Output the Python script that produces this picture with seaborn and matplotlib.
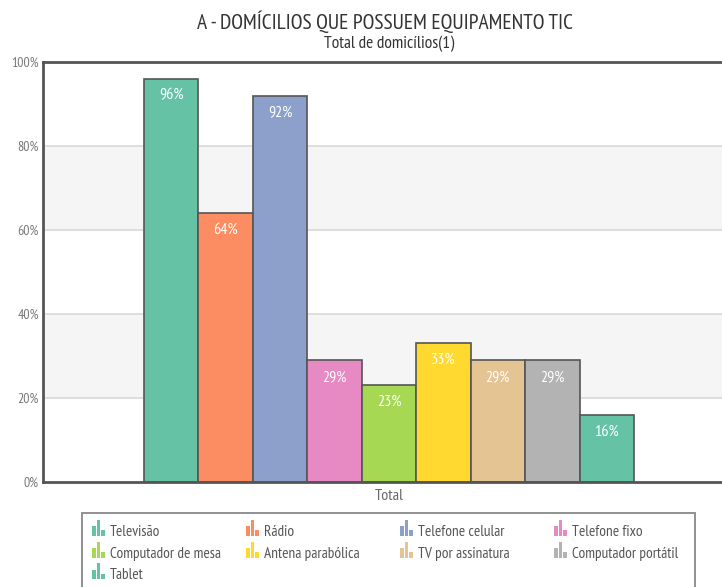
import pandas as pd
import seaborn as sns
import matplotlib.pyplot as plt
import matplotlib.font_manager as fm
from matplotlib.patches import Rectangle
from matplotlib.legend_handler import HandlerBase

categorias = ["Televisão", "Rádio", "Telefone celular", "Telefone fixo",
              "Computador de mesa", "Antena parabólica", "TV por assinatura",
              "Computador portátil", "Tablet"]
valores = [96, 64, 92, 29, 23, 33, 29, 29, 16]
grupo = ["Total"] * len(categorias)
cores = ["#66c2a5", "#fc8d62", "#8da0cb", "#e78ac3", "#a6d854",
         "#ffd92f", "#e5c494", "#b3b3b3", "#66c2a5"]
yticks = [0, 20, 40, 60, 80, 100]

sns.set_style("white")
# fonte estreita se houver, senao Liberation Sans
instaladas = {f.name for f in fm.fontManager.ttflist}
prefs = ["Ubuntu Condensed", "PT Sans Narrow", "Liberation Sans Narrow",
         "Liberation Sans"]
fonte = [f for f in prefs if f in instaladas][:1]
plt.rcParams['font.family'] = fonte + ['DejaVu Sans']


class MiniBarras(HandlerBase):
    # icone de grafico de barras pequeno, como no original
    def create_artists(self, legend, orig, xd, yd, w, h, fontsize, trans):
        cor = orig.get_facecolor()
        arts = []
        bw = w / 3.6
        for i, fr in enumerate([0.6, 1.0, 0.35]):
            r = Rectangle((xd + i * bw * 1.3, yd - 1), bw, (h + 2) * fr,
                          facecolor=cor, edgecolor="none", transform=trans)
            arts.append(r)
        return arts


df = pd.DataFrame({"grupo": grupo, "categoria": categorias, "valor": valores})

fig = plt.figure(figsize=(7.22, 5.87), dpi=100)
ax = fig.add_axes([43 / 722, 105 / 587, 692 / 722, 420 / 587])

# faixas alternadas de fundo
for lo in [20, 60]:
    ax.axhspan(lo, lo + 20, color="#f5f5f5", zorder=0)
for t in yticks[1:]:
    ax.axhline(t, color="#d9d9d9", lw=1.2, zorder=0.5)

sns.barplot(data=df, x="grupo", y="valor", hue="categoria",
            hue_order=categorias, palette=cores, width=0.8, saturation=1,
            ax=ax, edgecolor="#555555", linewidth=1.2, legend=False, zorder=2)

for cont, v in zip(ax.containers, valores):
    barra = cont[0]
    ax.text(barra.get_x() + barra.get_width() / 2, v - 4, f"{v}%",
            ha="center", va="center", color="white", fontsize=11.5, zorder=3)

ax.set_ylim(0, 100)
ax.set_xlim(-0.565, 0.565)
ax.set_yticks(yticks)
ax.set_yticklabels([f"{t}%" for t in yticks], color="#777777", fontsize=10)
ax.tick_params(axis="x", colors="#666666", labelsize=11.5, length=0, pad=5)
ax.tick_params(axis="y", length=0, pad=3)
ax.set_xlabel("")
ax.set_ylabel("")
for s in ["left", "bottom", "top"]:
    ax.spines[s].set_color("#555555")
    ax.spines[s].set_linewidth(2)
ax.spines["right"].set_visible(False)

fig.text(385 / 722, 1 - 22 / 587, "A - DOMÍCILIOS QUE POSSUEM EQUIPAMENTO TIC",
         ha="center", va="center", fontsize=15.5, color="#333333")
fig.text(389 / 722, 1 - 44 / 587, "Total de domicílios(1)",
         ha="center", va="center", fontsize=12.5, color="#333333")

# caixa da legenda
fig.patches.append(Rectangle((82 / 722, -0.05), 613 / 722, 0.05 + 74 / 587,
                             transform=fig.transFigure, facecolor="white",
                             edgecolor="#888888", lw=1.3))
# uma legenda por coluna, colunas de largura fixa
colunas = [[0, 4, 8], [1, 5], [2, 6], [3, 7]]
xcol = [89, 243, 397, 551]
for idx, x0 in zip(colunas, xcol):
    handles = [Rectangle((0, 0), 1, 1, facecolor=cores[i]) for i in idx]
    rotulos = [categorias[i] for i in idx]
    fig.legend(handles, rotulos, frameon=False,
               bbox_to_anchor=(x0 / 722, 66 / 587), loc="upper left",
               fontsize=11, labelcolor="#555555",
               handler_map={Rectangle: MiniBarras()}, handlelength=0.85,
               handleheight=0.95, handletextpad=0.3, labelspacing=0.45,
               borderaxespad=0, borderpad=0.2)

fig.savefig("out.png", dpi=100)
